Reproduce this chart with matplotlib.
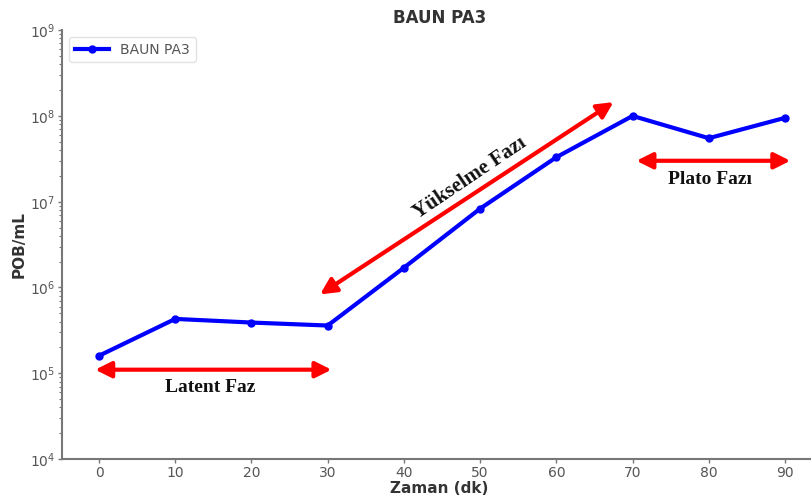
import matplotlib
matplotlib.use("Agg")
import matplotlib.pyplot as plt

# Growth curve data
time_min = [0, 10, 20, 30, 40, 50, 60, 70, 80, 90]
pob_ml = [1.6e5, 4.3e5, 3.9e5, 3.6e5, 1.7e6, 8.3e6, 3.3e7, 1.0e8, 5.5e7, 9.5e7]
series_label = "BAUN PA3"

# Phase annotations: (start, end) in data coordinates
latent_arrow = ((-0.5, 1.1e5), (30.5, 1.1e5))
rise_arrow = ((29, 8.3e5), (67.5, 1.45e8))
plateau_arrow = ((70.5, 3.0e7), (90.7, 3.0e7))

fig = plt.figure(figsize=(8.11, 5.01), dpi=100)
ax = fig.add_axes([0.0765, 0.0838, 0.93, 0.856])

ax.plot(time_min, pob_ml, color="#0000ff", lw=3, marker="o", ms=5,
        label=series_label)
ax.set_yscale("log")
ax.set_ylim(1e4, 1e9)
ax.set_xlim(-4.85, 94.1)
ax.set_xticks(time_min)

grey = "#555555"
for s in ["top", "right"]:
    ax.spines[s].set_visible(False)
for s in ["left", "bottom"]:
    ax.spines[s].set_color("#777777")
    ax.spines[s].set_linewidth(1.5)
ax.tick_params(axis="both", which="major", colors="#777777", labelcolor=grey,
               labelsize=10, length=3, width=1, pad=2)
ax.tick_params(axis="y", which="minor", colors="#777777", length=2, width=0.8)

ax.set_title("BAUN PA3", fontsize=12, fontweight="bold", color="#333333", pad=5)
ax.set_xlabel("Zaman (dk)", fontsize=11, fontweight="bold", color="#333333",
              labelpad=1)
ax.set_ylabel("POB/mL", fontsize=11, fontweight="bold", color="#333333",
              labelpad=2)

leg = ax.legend(loc="upper left", fontsize=10, frameon=True, handlelength=2.5,
                borderaxespad=0.5)
leg.get_frame().set_edgecolor("#dddddd")
for t in leg.get_texts():
    t.set_color(grey)

arrow_kw = dict(arrowstyle="<|-|>,head_length=0.6,head_width=0.3",
                color="#ff0000", lw=3, mutation_scale=16, shrinkA=0, shrinkB=0)
for (p0, p1) in [latent_arrow, plateau_arrow, rise_arrow]:
    ax.annotate("", xy=p1, xytext=p0, arrowprops=arrow_kw)

serif = dict(family="Liberation Serif", fontweight="bold", color="#111111")
ax.text(14.6, 6.8e4, "Latent Faz", ha="center", va="center", fontsize=14,
        **serif)
ax.text(80.2, 1.8e7, "Plato Fazı", ha="center", va="center", fontsize=14,
        **serif)
ax.text(48.6, 1.9e7, "Yükselme Fazı", ha="center", va="center",
        rotation=34, rotation_mode="anchor", fontsize=15, **serif)

fig.savefig("out.png", dpi=100)
